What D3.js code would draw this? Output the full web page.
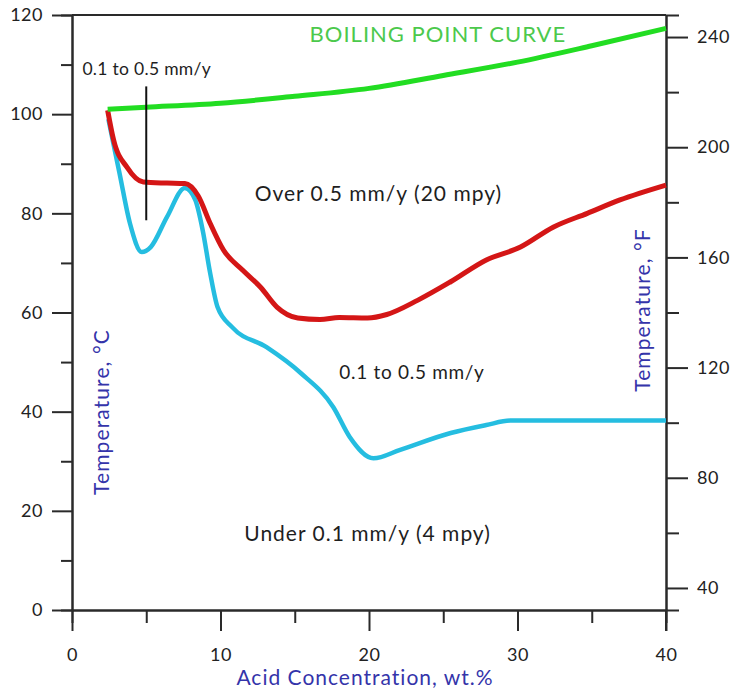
<!DOCTYPE html>
<html>
<head>
<meta charset="utf-8">
<script src="https://cdn.jsdelivr.net/npm/d3@7"></script>
<style>
  body { margin: 0; background: #fff; }
  text { font-family: Lato, "Open Sans", sans-serif; }
</style>
</head>
<body>
<div id="my_dataviz"></div>
<script>
// data (acid wt.% vs temperature in C)
const boilConc = [2.4, 5, 10, 15, 20, 25, 30, 35, 40];
const boilTemp = [101, 101.4, 102.2, 103.6, 105.2, 107.8, 110.5, 113.8, 117.3];

const redConc = [2.4, 2.8, 3.7, 4.8, 6.4, 7.6, 8.5, 9.3, 10.2, 11.5, 12.7, 13.8, 15.2, 16.7, 18, 19.9, 21.2, 23.3, 25.5, 27.9, 30.2, 32.4, 34.7, 36.9, 40];
const redTemp = [100.8, 94.8, 89.3, 86.3, 86.1, 86.0, 83.5, 78, 72.6, 68.5, 65.1, 61.1, 58.9, 58.6, 59.0, 58.9, 59.6, 62.5, 66.2, 70.6, 73.2, 77.2, 80.0, 82.7, 85.7];

const cyanConc = [2.45, 2.6, 3.2, 3.9, 4.7, 5.3, 6.4, 7.6, 8.3, 8.8, 9.3, 9.8, 10.8, 13.1, 15.4, 17.6, 18.7, 20.3, 22.1, 25.5, 27.9, 29.5, 40];
const cyanTemp = [99, 96.8, 88.1, 78, 72.2, 73.2, 79.3, 85.1, 82.7, 76.6, 68, 61.1, 57, 53, 47.8, 40.9, 34.9, 30.6, 32.3, 35.7, 37.3, 38.2, 38.2];

const markerConc = 5;
const markerTemp = [78.6, 105.6];

const xTicks = [0, 10, 20, 30, 40];
const xMinor = [5, 15, 25, 35];
const cTicks = [0, 20, 40, 60, 80, 100, 120];
const cMinor = [10, 30, 50, 70, 90, 110];
const fTicks = [40, 80, 120, 160, 200, 240];
const fMinor = [60, 100, 140, 180, 220];

const labels = [
  {text: "BOILING POINT CURVE", c: 16.0, t: 114.5, cls: "green"},
  {text: "0.1 to 0.5 mm/y", c: 0.7, t: 108.0, cls: "small"},
  {text: "Over 0.5 mm/y (20 mpy)", c: 12.3, t: 82.5, cls: "note"},
  {text: "0.1 to 0.5 mm/y", c: 18.0, t: 46.5, cls: "mid"},
  {text: "Under 0.1 mm/y (4 mpy)", c: 11.6, t: 14.0, cls: "note"}
];

const W = 733, H = 695;

const svg = d3.select("#my_dataviz")
  .append("svg")
  .attr("width", W)
  .attr("height", H);

const x = d3.scaleLinear().domain([0, 40]).range([72, 666]);
const y = d3.scaleLinear().domain([0, 120]).range([610, 15]);
// right axis in F, same pixels
const yF = d3.scaleLinear().domain([32, 120 * 1.8 + 32]).range([610, 15]);

const axisColor = "#2a2a2a";

function styleAxis(g) {
  g.select(".domain").attr("stroke", axisColor).attr("stroke-width", 2);
  g.selectAll(".tick line").attr("stroke", axisColor).attr("stroke-width", 2);
  g.selectAll(".tick text").attr("fill", "#222").style("font-size", "18px")
    .style("letter-spacing", "0.5px")
    .style("font-family", "Lato, 'Open Sans', sans-serif");
}

// minor ticks first
svg.append("g").attr("transform", "translate(0,610)")
  .call(d3.axisBottom(x).tickValues(xMinor).tickSize(13).tickFormat(""))
  .call(styleAxis);
svg.append("g").attr("transform", "translate(72,0)")
  .call(d3.axisLeft(y).tickValues(cMinor).tickSize(11).tickFormat(""))
  .call(styleAxis);
svg.append("g").attr("transform", "translate(666,0)")
  .call(d3.axisRight(yF).tickValues(fMinor).tickSize(13).tickFormat(""))
  .call(styleAxis);

// major ticks
svg.append("g").attr("transform", "translate(0,610)")
  .call(d3.axisBottom(x).tickValues(xTicks).tickSize(21).tickSizeOuter(0).tickPadding(17))
  .call(styleAxis);
svg.append("g").attr("transform", "translate(72,0)")
  .call(d3.axisLeft(y).tickValues(cTicks).tickSize(20).tickSizeOuter(0).tickPadding(9))
  .call(styleAxis);
svg.append("g").attr("transform", "translate(666,0)")
  .call(d3.axisRight(yF).tickValues(fTicks).tickSize(22).tickSizeOuter(0).tickPadding(9))
  .call(styleAxis);

// right axis runs down to the x tick length
svg.append("line")
  .attr("x1", x(40)).attr("x2", x(40))
  .attr("y1", y(0)).attr("y2", y(0) + 21)
  .attr("stroke", axisColor).attr("stroke-width", 2);

// top frame
svg.append("line")
  .attr("x1", x(0)).attr("x2", x(40))
  .attr("y1", y(120)).attr("y2", y(120))
  .attr("stroke", axisColor).attr("stroke-width", 2);

const line = d3.line()
  .x(d => x(d[0]))
  .y(d => y(d[1]))
  .curve(d3.curveMonotoneX);

svg.append("path")
  .datum(d3.zip(cyanConc, cyanTemp))
  .attr("d", line)
  .attr("fill", "none")
  .attr("stroke", "#25bde0")
  .attr("stroke-width", 4.5)
  .attr("stroke-linejoin", "round");

svg.append("path")
  .datum(d3.zip(redConc, redTemp))
  .attr("d", line)
  .attr("fill", "none")
  .attr("stroke", "#d41616")
  .attr("stroke-width", 5)
  .attr("stroke-linejoin", "round");

svg.append("path")
  .datum(d3.zip(boilConc, boilTemp))
  .attr("d", line)
  .attr("fill", "none")
  .attr("stroke", "#22dd22")
  .attr("stroke-width", 5)
  .attr("stroke-linejoin", "round");

// marker line
svg.append("line")
  .attr("x1", x(markerConc)).attr("x2", x(markerConc))
  .attr("y1", y(markerTemp[0])).attr("y2", y(markerTemp[1]))
  .attr("stroke", "#111").attr("stroke-width", 2);

// annotations
const fontSize = {green: "22px", small: "17.5px", note: "21px", mid: "19px"};
const spacing = {green: "1px", small: "0.3px", note: "1px", mid: "0.7px"};
svg.selectAll(".label")
  .data(labels)
  .enter()
  .append("text")
    .attr("x", d => x(d.c))
    .attr("y", d => y(d.t))
    .attr("fill", d => d.cls == "green" ? "#4cc94c" : "#1e1e1e")
    .style("font-size", d => fontSize[d.cls])
    .style("letter-spacing", d => spacing[d.cls])
    .text(d => d.text);

// axis titles
const titleColor = "#3434aa";
svg.append("text")
  .attr("x", 365).attr("y", 685)
  .attr("text-anchor", "middle")
  .attr("fill", titleColor)
  .style("font-size", "21px")
  .style("letter-spacing", "1px")
  .text("Acid Concentration, wt.%");

svg.append("text")
  .attr("transform", "translate(109,412) rotate(-90)")
  .attr("text-anchor", "middle")
  .attr("fill", titleColor)
  .style("font-size", "21px")
  .style("letter-spacing", "1.1px")
  .text("Temperature, °C");

svg.append("text")
  .attr("transform", "translate(650,310) rotate(-90)")
  .attr("text-anchor", "middle")
  .attr("fill", titleColor)
  .style("font-size", "21px")
  .style("letter-spacing", "1.1px")
  .text("Temperature, °F");
</script>
</body>
</html>
